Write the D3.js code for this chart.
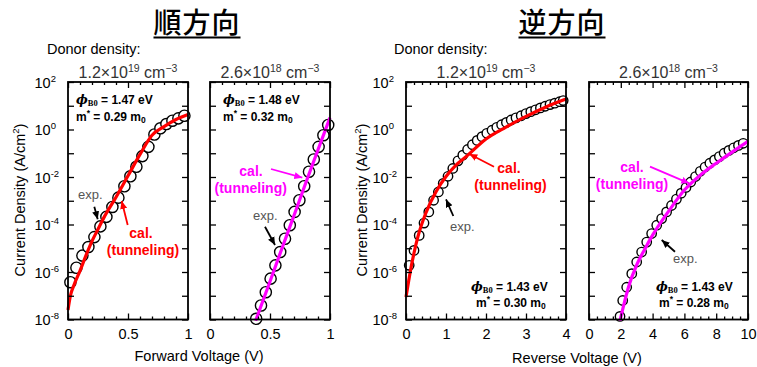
<!DOCTYPE html>
<html><head><meta charset="utf-8">
<script src="https://cdn.jsdelivr.net/npm/d3@7"></script>
<style>body{margin:0;background:#fff}svg{display:block}</style>
</head><body><svg id="c" width="757" height="367"></svg>
<script>
// ---------------- data ----------------
const yDecades = [-8,-7,-6,-5,-4,-3,-2,-1,0,1,2];
const yLabelDecades = [-8,-6,-4,-2,0,2];

// Forward, Nd = 1.2e19
const fwdHiExpV    = [0.02,0.07,0.12,0.17,0.22,0.27,0.32,0.37,0.42,0.47,0.52,0.57,0.62,0.67,0.72,0.77,0.82,0.87,0.92,0.97];
const fwdHiExpLogJ = [-6.43,-5.82,-5.31,-4.95,-4.53,-4.08,-3.68,-3.26,-2.87,-2.39,-1.97,-1.57,-1.12,-0.73,-0.21,0.05,0.23,0.37,0.47,0.58];
const fwdHiCalV    = [0,0.02,0.05,0.1,0.15,0.2,0.25,0.3,0.4,0.5,0.6,0.7,0.8,0.9,1.0];
const fwdHiCalLogJ = [-7.6,-7.0,-6.55,-5.95,-5.3,-4.7,-4.2,-3.7,-2.85,-1.95,-1.05,-0.24,0.12,0.42,0.63];

// Forward, Nd = 2.6e18
const fwdLoExpV    = [0.385,0.425,0.465,0.505,0.545,0.585,0.625,0.665,0.705,0.745,0.785,0.825,0.865,0.905,0.945,0.985];
const fwdLoExpLogJ = [-7.97,-7.41,-6.85,-6.28,-5.72,-5.16,-4.6,-4.03,-3.47,-2.98,-2.39,-1.78,-1.26,-0.73,-0.24,0.19];
const fwdLoCalV    = [0.38,0.5,0.6,0.7,0.8,0.9,1.0];
const fwdLoCalLogJ = [-8.05,-6.4,-5.0,-3.62,-2.22,-0.85,0.5];

// Reverse, Nd = 1.2e19
const revHiExpV    = [0.08,0.2,0.33,0.45,0.57,0.69,0.81,0.93,1.05,1.17,1.3,1.42,1.54,1.66,1.78,1.9,2.02,2.15,2.27,2.39,2.51,2.63,2.75,2.88,3.0,3.12,3.24,3.36,3.48,3.6,3.72,3.84,3.93];
const revHiExpLogJ = [-5.72,-5.09,-4.46,-3.94,-3.47,-2.98,-2.63,-2.27,-1.97,-1.64,-1.32,-1.08,-0.84,-0.64,-0.46,-0.3,-0.16,-0.03,0.09,0.2,0.3,0.4,0.49,0.58,0.67,0.75,0.83,0.91,0.98,1.05,1.11,1.17,1.22];
const revHiCalV    = [0,0.05,0.1,0.2,0.3,0.5,0.75,1.0,1.25,1.5,2.0,2.5,3.0,3.5,4.0];
const revHiCalLogJ = [-7.05,-6.55,-6.05,-5.2,-4.5,-3.5,-2.62,-1.98,-1.5,-1.15,-0.4,0.1,0.55,0.95,1.28];

// Reverse, Nd = 2.6e18
const revLoExpV    = [1.95,2.12,2.37,2.69,3.0,3.31,3.63,3.94,4.26,4.57,4.88,5.19,5.5,5.8,6.1,6.4,6.7,7.0,7.3,7.6,7.9,8.2,8.5,8.8,9.1,9.4,9.7];
const revLoExpLogJ = [-7.87,-7.2,-6.64,-6.07,-5.58,-5.16,-4.74,-4.38,-4.03,-3.75,-3.47,-3.2,-2.93,-2.68,-2.44,-2.21,-1.98,-1.76,-1.58,-1.42,-1.28,-1.14,-1.0,-0.88,-0.77,-0.67,-0.58];
const revLoCalV    = [1.95,2.2,2.5,3,3.5,4,5,6,7,8,9,10];
const revLoCalLogJ = [-8.05,-7.35,-6.6,-5.7,-5.05,-4.45,-3.45,-2.55,-1.92,-1.42,-0.95,-0.5];

const phiValues = ["1.47","1.48","1.43","1.43"];
const mValues   = ["0.29","0.32","0.30","0.28"];
const dopings   = [["1.2","19"],["2.6","18"],["1.2","19"],["2.6","18"]];

// ---------------- drawing ----------------
const FONT = "'Liberation Sans', Arial, Helvetica, sans-serif";
const svg = d3.select("#c");
const RED = "#ff0000", MAG = "#ff00ff";
const TOP = 82, BOT = 319.5;

const defs = svg.append("defs");
[["arrBlack","#000"],["arrRed",RED],["arrMag",MAG]].forEach(([id,c])=>{
  defs.append("marker").attr("id",id).attr("markerUnits","userSpaceOnUse")
    .attr("markerWidth",9).attr("markerHeight",8).attr("refX",8).attr("refY",4)
    .attr("orient","auto").append("path").attr("d","M0,0.5 L8,4 L0,7.5 Z").attr("fill",c);
});

function rich(g, x, y, parts, base){
  const t = g.append("text").attr("x",x).attr("y",y).attr("font-family",FONT).attr("text-anchor","start");
  Object.entries(base||{}).forEach(([k,v])=>t.attr(k,v));
  let cur = 0;
  parts.forEach(p=>{
    const s = p.shift||0;
    const ts = t.append("tspan").text(p.t).attr("dy", s-cur);
    cur = s;
    if(p.size) ts.attr("font-size",p.size);
    if(p.family) ts.attr("font-family",p.family);
    if(p.style) ts.attr("font-style",p.style);
    if(p.weight) ts.attr("font-weight",p.weight);
  });
  return t;
}

const panels = [
  {left:68, right:188, dom:[0,1], major:[0,0.5,1], minor:d3.range(1,10).map(i=>i/10).filter(v=>v!==0.5),
   fmt:d=>d===0.5?"0.5":String(d), ylab:true, exp:[fwdHiExpV,fwdHiExpLogJ], cal:[fwdHiCalV,fwdHiCalLogJ], col:RED, r:5.6,
   par:{x1:76,x2:76,y1:104,y2:121}},
  {left:210, right:330, dom:[0,1], major:[0,0.5,1], minor:d3.range(1,10).map(i=>i/10).filter(v=>v!==0.5),
   fmt:d=>d===0.5?"0.5":String(d), ylab:false, exp:[fwdLoExpV,fwdLoExpLogJ], cal:[fwdLoCalV,fwdLoCalLogJ], col:MAG, r:5.6,
   par:{x1:223,x2:223,y1:104,y2:121}},
  {left:406, right:566, dom:[0,4], major:[0,1,2,3,4], minor:d3.range(1,20).map(i=>i/5).filter(v=>Math.abs(v-Math.round(v))>1e-6),
   fmt:d=>String(d), ylab:true, exp:[revHiExpV,revHiExpLogJ], cal:[revHiCalV,revHiCalLogJ], col:RED, r:4.7,
   par:{x1:471,x2:476,y1:291,y2:307}},
  {left:589, right:748, dom:[0,10], major:[0,2,4,6,8,10], minor:d3.range(1,20).map(i=>i/2).filter(v=>v%2!==0),
   fmt:d=>String(d), ylab:false, exp:[revLoExpV,revLoExpLogJ], cal:[revLoCalV,revLoCalLogJ], col:MAG, r:4.7,
   par:{x1:656,x2:659,y1:291,y2:307}}
];

panels.forEach((p,i)=>{
  const x = d3.scaleLinear().domain(p.dom).range([p.left,p.right]);
  const y = d3.scaleLog().domain([1e-8,1e2]).range([BOT,TOP]);
  const g = svg.append("g");

  const expPts = p.exp[0].map((v,k)=>[v, Math.pow(10,p.exp[1][k])]);
  g.append("g").selectAll("circle").data(expPts).join("circle")
    .attr("cx",d=>x(d[0])).attr("cy",d=>y(d[1])).attr("r",p.r)
    .attr("fill","#fff").attr("stroke","#000").attr("stroke-width",1.4);
  const calPts = p.cal[0].map((v,k)=>[v, Math.pow(10,p.cal[1][k])]);
  g.append("path").datum(calPts)
    .attr("d", d3.line().x(d=>x(d[0])).y(d=>y(d[1])).curve(d3.curveMonotoneX))
    .attr("fill","none").attr("stroke",p.col).attr("stroke-width",3.2).attr("stroke-linecap","butt");

  g.append("rect").attr("x",p.left).attr("y",TOP).attr("width",p.right-p.left).attr("height",BOT-TOP)
    .attr("fill","none").attr("stroke","#000").attr("stroke-width",1.8);

  const style = sel=>{ sel.select(".domain").remove(); sel.selectAll("line").attr("stroke","#000").attr("stroke-width",1.3); };
  g.append("g").attr("transform",`translate(0,${BOT})`)
    .call(d3.axisBottom(x).tickValues(p.major).tickSizeInner(-6).tickSizeOuter(0).tickPadding(9).tickFormat(p.fmt))
    .call(style).call(s=>s.selectAll("text").attr("font-family",FONT).attr("font-size",14.5).attr("fill","#000"));
  g.append("g").attr("transform",`translate(0,${BOT})`)
    .call(d3.axisBottom(x).tickValues(p.minor).tickSizeInner(-3).tickSizeOuter(0).tickFormat("")).call(style);
  g.append("g").attr("transform",`translate(0,${TOP})`)
    .call(d3.axisTop(x).tickValues(p.major).tickSizeInner(-6).tickSizeOuter(0).tickFormat("")).call(style);
  g.append("g").attr("transform",`translate(0,${TOP})`)
    .call(d3.axisTop(x).tickValues(p.minor).tickSizeInner(-3).tickSizeOuter(0).tickFormat("")).call(style);
  const decVals = yDecades.map(e=>Math.pow(10,e));
  g.append("g").attr("transform",`translate(${p.left},0)`)
    .call(d3.axisLeft(y).tickValues(decVals).tickSizeInner(-6).tickSizeOuter(0).tickFormat("")).call(style);
  g.append("g").attr("transform",`translate(${p.right},0)`)
    .call(d3.axisRight(y).tickValues(decVals).tickSizeInner(-6).tickSizeOuter(0).tickFormat("")).call(style);
  if(p.ylab){
    const ax = g.append("g").attr("transform",`translate(${p.left},0)`)
      .call(d3.axisLeft(y).tickValues(yLabelDecades.map(e=>Math.pow(10,e))).tickSize(0).tickFormat(""));
    ax.select(".domain").remove();
    ax.selectAll(".tick").each(function(d){
      const e = Math.round(Math.log10(d));
      const tk = d3.select(this);
      rich(tk, -33.5, 5, [{t:"10"},{t:String(e), size:9.5, shift:-6}], {"font-size":14.5,"fill":"#000"});
    });
  }

  const dp = dopings[i];
  rich(svg, (p.left+p.right)/2, 78,
    [{t:dp[0]+"×10"},{t:dp[1],size:10.5,shift:-6},{t:" cm",shift:0},{t:"−3",size:10.5,shift:-6}],
    {"font-size":16,"fill":"#333","text-anchor":"middle"});

  const pb = {"font-size":12,"font-weight":"bold","fill":"#000"};
  rich(svg, p.par.x1, p.par.y1, [
    {t:"ϕ", family:"'DejaVu Serif', 'Liberation Serif', serif", style:"italic", size:12.5},
    {t:"B0", size:8.5, shift:2, family:"'Liberation Serif', serif"},
    {t:" = "+phiValues[i]+" eV", shift:0}], pb);
  rich(svg, p.par.x2, p.par.y2, [
    {t:"m"},{t:"*", size:8.5, shift:-5},{t:" = "+mValues[i]+" m", shift:0},{t:"0", size:8.5, shift:2}], pb);
});

const ann = [
  {cal:[141,238], tun:[143,255], col:RED, carr:[127.7,225,121.7,201], exp:[78,199], earr:[94.3,206.7,97.7,219.3], mk:"arrRed"},
  {cal:[251,176], tun:[250.7,193], col:MAG, carr:[271,169,302.3,177.7], exp:[253,220], earr:[265,226.7,275,245], mk:"arrMag"},
  {cal:[509,173], tun:[510.5,190], col:RED, carr:[494,166.7,469.3,154], exp:[450,231], earr:[453.3,216,446,199.3], mk:"arrRed"},
  {cal:[632,172], tun:[632,189], col:MAG, carr:[650,166.7,689.3,183.3], exp:[673,263], earr:[675,251.7,661.7,240], mk:"arrMag"}
];
ann.forEach(a=>{
  svg.append("text").attr("x",a.cal[0]).attr("y",a.cal[1]).attr("text-anchor","middle")
    .attr("font-family",FONT).attr("font-size",14).attr("font-weight","bold").attr("fill",a.col).text("cal.");
  svg.append("text").attr("x",a.tun[0]).attr("y",a.tun[1]).attr("text-anchor","middle")
    .attr("font-family",FONT).attr("font-size",14).attr("font-weight","bold").attr("fill",a.col).text("(tunneling)");
  svg.append("line").attr("x1",a.carr[0]).attr("y1",a.carr[1]).attr("x2",a.carr[2]).attr("y2",a.carr[3])
    .attr("stroke",a.col).attr("stroke-width",1.8).attr("marker-end",`url(#${a.mk})`);
  svg.append("text").attr("x",a.exp[0]).attr("y",a.exp[1])
    .attr("font-family",FONT).attr("font-size",13).attr("fill","#555").text("exp.");
  svg.append("line").attr("x1",a.earr[0]).attr("y1",a.earr[1]).attr("x2",a.earr[2]).attr("y2",a.earr[3])
    .attr("stroke","#000").attr("stroke-width",1.8).attr("marker-end","url(#arrBlack)");
});

[["順方向",197],["逆方向",562]].forEach(([t,cx])=>{
  const tt = svg.append("text").attr("x",cx).attr("y",33).attr("text-anchor","middle")
    .attr("font-family","'Noto Sans CJK JP', sans-serif").attr("font-size",28).attr("font-weight",500)
    .attr("letter-spacing",1).attr("fill","#000").text(t);
  const bb = tt.node().getBBox();
  svg.append("line").attr("x1",bb.x).attr("x2",bb.x+bb.width).attr("y1",37.5).attr("y2",37.5)
    .attr("stroke","#000").attr("stroke-width",2);
});
[47,394].forEach(x=>svg.append("text").attr("x",x).attr("y",54).attr("font-family",FONT)
  .attr("font-size",14.5).attr("fill","#000").text("Donor density:"));

[[25,200],[367,200]].forEach(([x,y])=>{
  rich(svg, 0, 0, [{t:"Current Density (A/cm"},{t:"2",size:9.5,shift:-6},{t:")",shift:0}],
    {"font-size":14.5,"fill":"#000","text-anchor":"middle","transform":`translate(${x},${y}) rotate(-90)`});
});
svg.append("text").attr("x",199).attr("y",361).attr("text-anchor","middle").attr("font-family",FONT)
  .attr("font-size",14.5).text("Forward Voltage (V)");
svg.append("text").attr("x",577).attr("y",363).attr("text-anchor","middle").attr("font-family",FONT)
  .attr("font-size",14.5).text("Reverse Voltage (V)");
</script></body></html>
